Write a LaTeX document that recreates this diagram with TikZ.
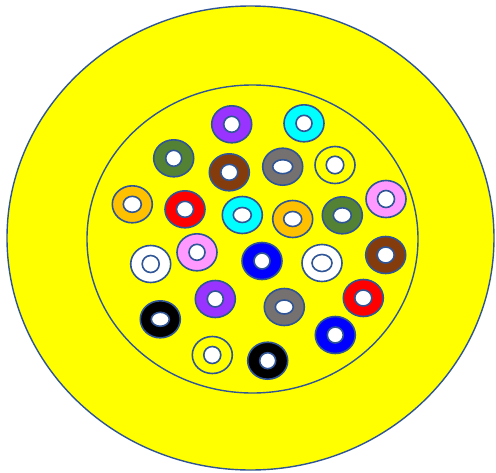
\documentclass[tikz,border=0pt]{standalone}
\usepackage{xcolor}
\usepackage{tikz}
\usetikzlibrary{shapes.geometric}
\definecolor{rim}{HTML}{2F5597}
\definecolor{jacket}{HTML}{FFFF00}
\definecolor{fPurple}{HTML}{9933FF}
\definecolor{fCyan}{HTML}{00FFFF}
\definecolor{fGreen}{HTML}{548235}
\definecolor{fBrown}{HTML}{843C0C}
\definecolor{fGray}{HTML}{767171}
\definecolor{fGold}{HTML}{FFC000}
\definecolor{fRed}{HTML}{FF0000}
\definecolor{fPink}{HTML}{FF99FF}
\definecolor{fBlue}{HTML}{0000FF}
\definecolor{fBlack}{HTML}{000000}
\definecolor{fWhite}{HTML}{FFFFFF}

\begin{document}
\begin{tikzpicture}[x=1pt,y=-1pt]
    \tikzset{shell/.style={ellipse,draw=rim,line width=1.4pt,fill=jacket,inner sep=0pt}, ring/.style={ellipse,draw=rim,line width=1.6pt,inner sep=0pt,minimum width=40pt,minimum height=37pt}, hole/.style={ellipse,draw=rim,line width=1.6pt,fill=white,inner sep=0pt}}
    \useasboundingbox (0,0) rectangle (496,472);
    \node[shell,minimum width=487pt,minimum height=464pt] (outer) at (250.5,238) {};
    \node[shell,minimum width=331pt,minimum height=308pt] (inner) at (252.5,239) {};
    % tubes: x / y / colour / hole width / hole height
    \foreach \x/\y/\c/\w/\h [count=\i] in {
        231.7/124.3/fPurple/16/16, 304/123.3/fCyan/16/16,
        173.7/158.3/fGreen/16/16, 229.3/172.3/fBrown/17/16, 282.7/166.7/fGray/20/14, 335/165/jacket/17.5/17.5,
        132.3/204.3/fGold/18/16, 185/209.3/fRed/17/16, 242.3/215/fCyan/18/15, 292.7/219/fGold/18/15, 342.3/215.3/fGreen/18/15, 386/199/fPink/17/17,
        150.7/264/fWhite/17/17, 197/252.3/fPink/16/16, 262/261/fBlue/16/16, 322/263/fWhite/20/17, 385.7/255/fBrown/17/16,
        215.3/299/fPurple/16/16, 284.3/307/fGray/18/14, 363.3/298/fRed/17/16,
        160.3/319.3/fBlack/18/14, 335.3/335/fBlue/16/16,
        212.3/355/jacket/17/17, 267.7/360.7/fBlack/16/16} {
      \node[ring,fill=\c] (t\i) at (\x,\y) {};
      \node[hole,minimum width=\w pt,minimum height=\h pt] (h\i) at (t\i.center) {};
    }
  \end{tikzpicture}
\end{document}
